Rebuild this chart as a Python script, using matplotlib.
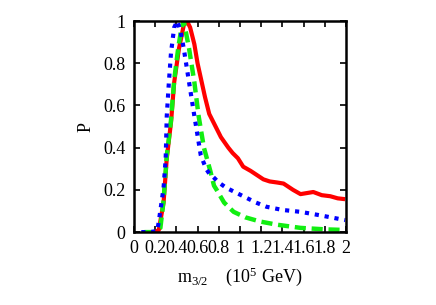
import matplotlib
matplotlib.use("Agg")
import matplotlib.pyplot as plt

red_x = [0.1,0.2,0.235,0.28,0.31,0.35,0.38,0.425,0.47,0.5,0.53,0.57,0.6,0.635,0.67,0.71,0.76,0.82,0.89,0.93,0.98,1.03,1.1,1.16,1.22,1.28,1.35,1.41,1.5,1.57,1.63,1.69,1.77,1.85,1.92,1.99]
red_y = [0,0,0.01,0.14,0.35,0.52,0.71,0.87,0.98,1.0,0.97,0.89,0.8,0.72,0.64,0.56,0.51,0.45,0.40,0.375,0.35,0.31,0.29,0.27,0.25,0.24,0.235,0.23,0.2,0.18,0.185,0.19,0.175,0.17,0.16,0.156]

blue_x = [0.07,0.15,0.22,0.235,0.28,0.30,0.31,0.33,0.35,0.38,0.41,0.44,0.47,0.52,0.57,0.63,0.68,0.72,0.75,0.8,0.87,0.95,1.03,1.15,1.25,1.4,1.57,1.75,1.99]
blue_y = [0,0,0.005,0.05,0.21,0.35,0.55,0.71,0.85,0.97,1.0,0.95,0.87,0.71,0.55,0.365,0.30,0.27,0.26,0.235,0.21,0.19,0.17,0.14,0.12,0.105,0.096,0.08,0.057]

green_x = [0.1,0.2,0.25,0.28,0.31,0.35,0.38,0.42,0.45,0.47,0.52,0.57,0.61,0.66,0.72,0.755,0.78,0.85,0.94,1.05,1.19,1.35,1.57,1.8,1.99]
green_y = [0,0,0.02,0.15,0.36,0.53,0.72,0.88,0.97,1.0,0.87,0.71,0.55,0.40,0.29,0.22,0.2,0.14,0.096,0.07,0.05,0.035,0.02,0.013,0.01]

xticks = [0,0.2,0.4,0.6,0.8,1,1.2,1.4,1.6,1.8,2]
xtick_labels = ['0','0.2','0.4','0.6','0.8','1','1.2','1.4','1.6','1.8','2']
yticks = [0,0.2,0.4,0.6,0.8,1]
ytick_labels = ['0','0.2','0.4','0.6','0.8','1']

plt.rcParams['font.family'] = ['Liberation Serif', 'DejaVu Serif']
plt.rcParams['mathtext.fontset'] = 'custom'
plt.rcParams['mathtext.rm'] = 'Liberation Serif'
plt.rcParams['mathtext.it'] = 'Liberation Serif'

fig = plt.figure(figsize=(4.36, 3.05), dpi=100)
ax = fig.add_axes([0.307, 0.239, 0.487, 0.692])

ax.plot(red_x, red_y, color='#ff0000', lw=3.0, solid_capstyle='butt', solid_joinstyle='round')
ax.plot(green_x, green_y, color='#11ee11', lw=3.2, linestyle=(0, (2.5, 1.3)))
ax.plot(blue_x, blue_y, color='#0000ff', lw=3.0, linestyle=(0, (1, 1.4)))

ax.set_xlim(0, 2)
ax.set_ylim(0, 1)
ax.set_xticks(xticks)
ax.set_xticklabels(xtick_labels)
ax.set_yticks(yticks)
ax.set_yticklabels(ytick_labels)
ax.tick_params(direction='in', top=True, right=True, length=4, width=1.2, labelsize=13, pad=6)
for s in ax.spines.values():
    s.set_linewidth(1.8)

ax.set_xlabel(r'm$_{3/2}$    (10$^5$ GeV)', fontsize=13, labelpad=6)
ax.set_ylabel('P', fontsize=13, labelpad=6)

fig.savefig('out.png', dpi=100)
